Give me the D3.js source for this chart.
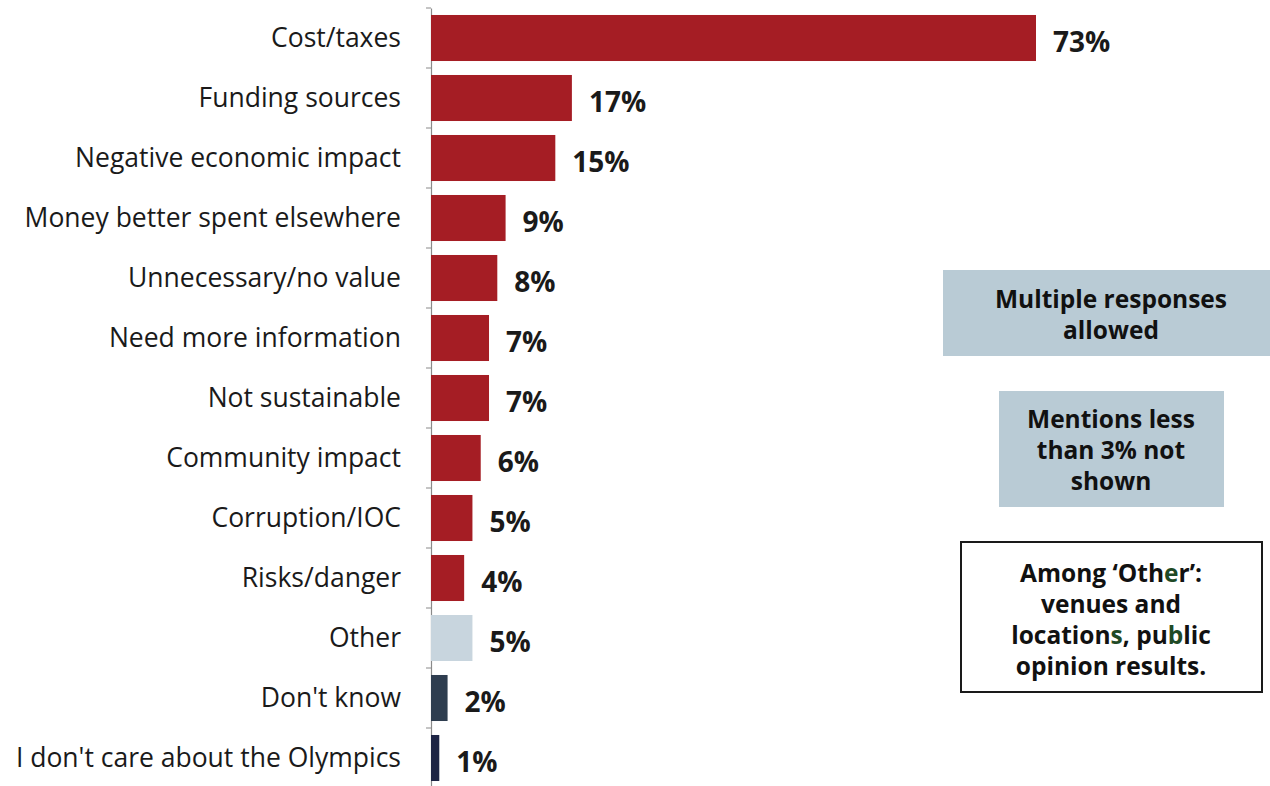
<!DOCTYPE html>
<html>
<head>
<meta charset="utf-8">
<script src="https://cdn.jsdelivr.net/npm/d3@7"></script>
<style>
  body { margin: 0; background: #fff; }
  svg { display: block; font-family: "Open Sans", "Noto Sans", sans-serif; }
</style>
</head>
<body>
<div id="chart"></div>
<script>
var width = 1270,
    height = 786;

// data
var categories = ['Cost/taxes', 'Funding sources', 'Negative economic impact', 'Money better spent elsewhere',
    'Unnecessary/no value', 'Need more information', 'Not sustainable', 'Community impact',
    'Corruption/IOC', 'Risks/danger', 'Other', "Don't know", "I don't care about the Olympics"];
var values = [73, 17, 15, 9, 8, 7, 7, 6, 5, 4, 5, 2, 1];
var groups = ['reason', 'reason', 'reason', 'reason', 'reason', 'reason', 'reason', 'reason',
    'reason', 'reason', 'other', 'dontknow', 'dontcare'];

// note text; letters wrapped in [] show up greenish in the scan
var notes = [
    ['Multiple responses', 'allowed'],
    ['Mentions less', 'than 3% not', 'shown'],
    ['Among \u2018Oth[e]r\u2019:', 'venues and', 'location[s], pu[b]lic', 'opinion results.']
];

var color = d3.scaleOrdinal()
    .domain(['reason', 'other', 'dontknow', 'dontcare'])
    .range(['#a51d24', '#c8d5de', '#2e3d4f', '#1d2444']);

var svg = d3.select('#chart').append('svg')
    .attr('width', width)
    .attr('height', height);

var x0 = 431;

var x = d3.scaleLinear()
    .domain([0, 73])
    .range([x0, 1036]);

var y = d3.scaleBand()
    .domain(categories)
    .range([8, 788])
    .paddingInner(0.233)
    .paddingOuter(0.1165);

var rows = categories.map(function(c, i) {
    return { name: c, value: values[i], group: groups[i] };
});

// axis: vertical line with small ticks between bands
var yAxis = d3.axisLeft(y).tickSize(0).tickFormat('');
var axisG = svg.append('g')
    .attr('transform', 'translate(' + x0 + ',0)')
    .call(yAxis);
axisG.select('.domain').attr('stroke', '#8a8a8a').attr('stroke-width', 1.2);

svg.append('g').selectAll('line')
    .data(categories)
    .enter().append('line')
    .attr('x1', x0 - 5)
    .attr('x2', x0)
    .attr('y1', function(d) { return y(d) - y.step() * y.paddingInner() / 2; })
    .attr('y2', function(d) { return y(d) - y.step() * y.paddingInner() / 2; })
    .attr('stroke', '#8a8a8a')
    .attr('stroke-width', 1);

// bars
svg.append('g').selectAll('rect')
    .data(rows)
    .enter().append('rect')
    .attr('x', x(0))
    .attr('y', function(d) { return y(d.name); })
    .attr('width', function(d) { return x(d.value) - x(0); })
    .attr('height', y.bandwidth())
    .attr('fill', function(d) { return color(d.group); });

// category labels
svg.append('g').selectAll('text')
    .data(rows)
    .enter().append('text')
    .attr('x', 401)
    .attr('y', function(d) { return y(d.name) + y.bandwidth() / 2; })
    .attr('dy', '0.35em')
    .attr('text-anchor', 'end')
    .attr('font-size', '26.5px')
    .attr('fill', '#1a1a1a')
    .text(function(d) { return d.name; });

// value labels
svg.append('g').selectAll('text')
    .data(rows)
    .enter().append('text')
    .attr('x', function(d) { return x(d.value) + 17; })
    .attr('y', function(d) { return y(d.name) + y.bandwidth() / 2 + 4; })
    .attr('dy', '0.35em')
    .attr('font-size', '28px')
    .attr('font-weight', 'bold')
    .attr('fill', '#1a1a1a')
    .text(function(d) { return d.value + '%'; });

// note boxes
var boxes = [
    { x: 943, y: 270, w: 327, h: 86, fill: '#b9cbd5', stroke: 'none', lines: notes[0], top: 299 },
    { x: 999, y: 391, w: 225, h: 116, fill: '#b9cbd5', stroke: 'none', lines: notes[1], top: 419 },
    { x: 961, y: 542, w: 301, h: 150, fill: '#fff', stroke: '#1a1a1a', lines: notes[2], top: 573 }
];

var box = svg.append('g').selectAll('g')
    .data(boxes)
    .enter().append('g');

box.append('rect')
    .attr('x', function(d) { return d.x; })
    .attr('y', function(d) { return d.y; })
    .attr('width', function(d) { return d.w; })
    .attr('height', function(d) { return d.h; })
    .attr('fill', function(d) { return d.fill; })
    .attr('stroke', function(d) { return d.stroke; })
    .attr('stroke-width', 2);

box.append('text')
    .attr('text-anchor', 'middle')
    .attr('font-size', '24.5px')
    .attr('font-weight', 'bold')
    .attr('fill', '#111')
    .each(function(d) {
        var t = d3.select(this);
        d.lines.forEach(function(line, i) {
            var ts = t.append('tspan')
                .attr('x', 1111)
                .attr('y', d.top + i * 31)
                .attr('dy', '0.35em');
            line.split(/(\[.\])/).forEach(function(part) {
                if (!part) return;
                var green = part.charAt(0) === '[';
                ts.append('tspan')
                    .attr('fill', green ? '#1f4a26' : null)
                    .text(green ? part.charAt(1) : part);
            });
        });
    });
</script>
</body>
</html>
